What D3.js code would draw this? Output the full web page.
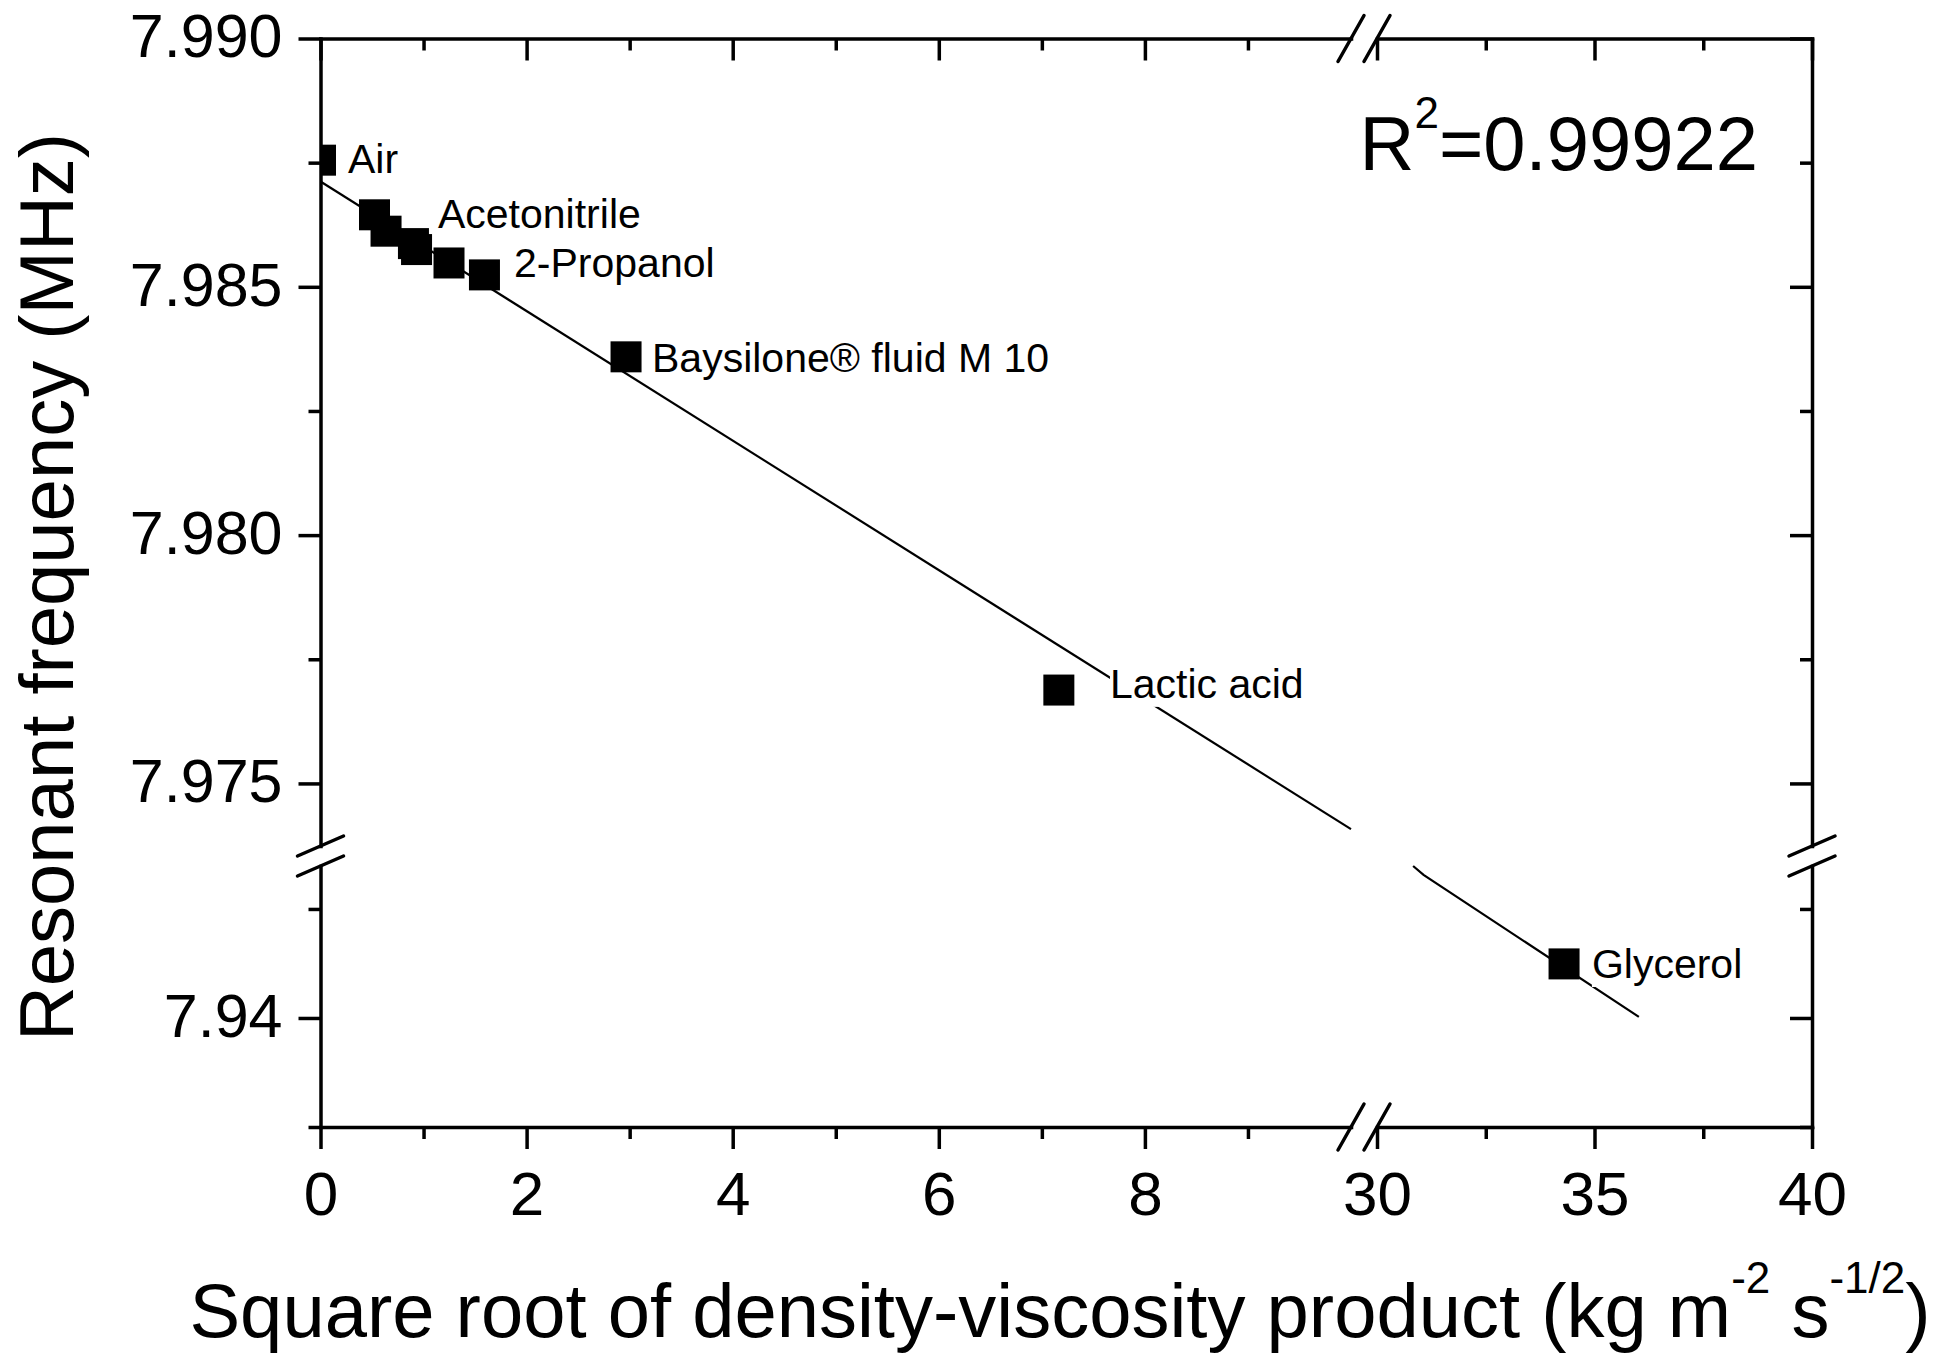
<!DOCTYPE html>
<html><head><meta charset="utf-8">
<script src="https://cdn.jsdelivr.net/npm/d3@7"></script>
<style>
html,body{margin:0;padding:0;background:#fff;}
svg{display:block;}
text{font-family:"Liberation Sans", Arial, Helvetica, sans-serif; fill:#000;}
</style></head><body>
<svg id="chart" width="1944" height="1353"></svg>
<script>
// ---------------- DATA ----------------
const pointX = [0.0, 0.524, 0.636, 0.902, 0.932, 1.247, 1.591, 2.965, 7.165, 34.30];
const pointY = [7.98755, 7.98645, 7.98612, 7.98587, 7.98575, 7.98548, 7.98524, 7.98359, 7.97688, 7.94248];

const labelText = ["Air", "Acetonitrile", "2-Propanol", "Baysilone\u00AE fluid M 10", "Lactic acid", "Glycerol"];
const labelX = [0.267, 1.140, 1.878, 3.217, 7.661, 34.94];
const labelY = [7.98759, 7.98648, 7.98549, 7.98359, 7.97702, 7.94251];

// linear fit line, read at its visible ends (drawn in two pieces across the breaks)
const fitUpperX = [0, 10];
const fitUpperY = [7.98712, 7.97408];
const fitLowerX = [30.83, 31.07, 36.02];
const fitLowerY = [7.94697, 7.94656, 7.94005];

const rSquared = "0.99922";

// broken axes: [left segment, right segment] and [lower segment, upper segment]
const xDomains = [[0, 10], [30, 40]];
const yDomains = [[7.935, 7.94697], [7.97374, 7.990]];
const xMajorTicks = [[0, 2, 4, 6, 8], [30, 35, 40]];
const xMinorTicks = [[1, 3, 5, 7, 9], [32.5, 37.5]];
const xTickLabels = [["0", "2", "4", "6", "8"], ["30", "35", "40"]];
const yMajorTicks = [[7.94], [7.975, 7.980, 7.985, 7.990]];
const yMinorTicks = [[7.935, 7.945], [7.9775, 7.9825, 7.9875]];
const yTickLabels = [["7.94"], ["7.975", "7.980", "7.985", "7.990"]];

const xTitle = "Square root of density-viscosity product (kg m";
const yTitle = "Resonant frequency (MHz)";

// ---------------- LAYOUT ----------------
const L = 320.5, R = 1812, T = 38.5, B = 1127;
const xGap = [1351, 1377];   // end of left x segment, start of right x segment
const yGap = [846, 866];     // end of upper y segment, start of lower y segment
const AX = 3.5;

const svg = d3.select("#chart");

const xScales = [
  d3.scaleLinear().domain(xDomains[0]).range([L, xGap[0]]),
  d3.scaleLinear().domain(xDomains[1]).range([xGap[1], R])
];
const yScales = [
  d3.scaleLinear().domain(yDomains[0]).range([B, yGap[1]]),
  d3.scaleLinear().domain(yDomains[1]).range([yGap[0], T])
];
const xPos = v => (v <= xDomains[0][1] ? xScales[0](v) : xScales[1](v));
const yPos = v => (v >= yDomains[1][0] ? yScales[1](v) : yScales[0](v));

function styleAxis(g, showDomain) {
  g.selectAll("path.domain").attr("stroke", "#000").attr("stroke-width", AX)
    .attr("stroke-linecap", "square").style("display", showDomain ? null : "none");
  g.selectAll(".tick line").attr("stroke", "#000").attr("stroke-width", AX);
  g.selectAll(".tick text").attr("fill", "#000")
    .style("font-family", '"Liberation Sans", Arial, sans-serif');
  g.attr("font-family", null).attr("font-size", null);
}

// ---------------- FIT LINE ----------------
const plot = svg.append("g");
const lineU = d3.line().x(d => xScales[0](d[0])).y(d => yScales[1](d[1]));
const lineLw = d3.line().x(d => xScales[1](d[0])).y(d => yScales[0](d[1]));
plot.append("path").datum(fitUpperX.map((x, i) => [x, fitUpperY[i]]))
  .attr("d", lineU).attr("fill", "none").attr("stroke", "#000").attr("stroke-width", 2.2);
plot.append("path").datum(fitLowerX.map((x, i) => [x, fitLowerY[i]]))
  .attr("d", lineLw).attr("fill", "none").attr("stroke", "#000").attr("stroke-width", 2.2);

// ---------------- LABELS (white background like the original) ----------------
const labG = svg.append("g");
labelText.forEach((t, i) => {
  const g = labG.append("g");
  const tx = g.append("text").attr("x", xPos(labelX[i])).attr("y", yPos(labelY[i]))
    .attr("dy", "0.36em").attr("font-size", 41).text(t);
  const bb = tx.node().getBBox();
  g.insert("rect", "text").attr("x", bb.x).attr("y", bb.y).attr("width", bb.width)
    .attr("height", bb.height).attr("fill", "#fff");
});

// ---------------- MARKERS ----------------
svg.append("clipPath").attr("id", "plotclip").append("rect")
  .attr("x", L).attr("y", T).attr("width", R - L).attr("height", B - T);
const S = 31;
svg.append("g").attr("clip-path", "url(#plotclip)")
  .selectAll("rect").data(pointX.map((x, i) => [x, pointY[i]])).join("rect")
  .attr("x", d => xPos(d[0]) - S / 2).attr("y", d => yPos(d[1]) - S / 2)
  .attr("width", S).attr("height", S).attr("fill", "#000");

// ---------------- AXES ----------------
const axG = svg.append("g");
[0, 1].forEach(i => {
  const xs = xScales[i];
  // bottom
  let g = axG.append("g").attr("transform", `translate(0,${B})`)
    .call(d3.axisBottom(xs).tickValues(xMajorTicks[i]).tickSize(22).tickSizeOuter(0)
      .tickPadding(22).tickFormat((d, j) => xTickLabels[i][j]));
  styleAxis(g, true);
  g.selectAll(".tick text").attr("font-size", 62);
  g = axG.append("g").attr("transform", `translate(0,${B})`)
    .call(d3.axisBottom(xs).tickValues(xMinorTicks[i]).tickSize(12).tickSizeOuter(0).tickFormat(""));
  styleAxis(g, false);
  // top (ticks inward)
  g = axG.append("g").attr("transform", `translate(0,${T})`)
    .call(d3.axisBottom(xs).tickValues(xMajorTicks[i]).tickSize(22).tickSizeOuter(0).tickFormat(""));
  styleAxis(g, true);
  g = axG.append("g").attr("transform", `translate(0,${T})`)
    .call(d3.axisBottom(xs).tickValues(xMinorTicks[i]).tickSize(12).tickSizeOuter(0).tickFormat(""));
  styleAxis(g, false);

  const ys = yScales[i];
  // left
  g = axG.append("g").attr("transform", `translate(${L},0)`)
    .call(d3.axisLeft(ys).tickValues(yMajorTicks[i]).tickSize(22).tickSizeOuter(0)
      .tickPadding(16).tickFormat((d, j) => yTickLabels[i][j]));
  styleAxis(g, true);
  g.selectAll(".tick text").attr("font-size", 61).attr("dy", "0.3em");
  g = axG.append("g").attr("transform", `translate(${L},0)`)
    .call(d3.axisLeft(ys).tickValues(yMinorTicks[i]).tickSize(12).tickSizeOuter(0).tickFormat(""));
  styleAxis(g, false);
  // right (ticks inward)
  g = axG.append("g").attr("transform", `translate(${R},0)`)
    .call(d3.axisLeft(ys).tickValues(yMajorTicks[i]).tickSize(22).tickSizeOuter(0).tickFormat(""));
  styleAxis(g, true);
  g = axG.append("g").attr("transform", `translate(${R},0)`)
    .call(d3.axisLeft(ys).tickValues(yMinorTicks[i]).tickSize(12).tickSizeOuter(0).tickFormat(""));
  styleAxis(g, false);
});

// ---------------- BREAK MARKS ----------------
const brk = svg.append("g").attr("stroke", "#000").attr("stroke-width", AX).attr("stroke-linecap", "round");
[xScales[0].range()[1], xScales[1].range()[0]].forEach(cx => {
  [T, B].forEach(cy => {
    brk.append("line").attr("x1", cx - 13).attr("y1", cy + 23).attr("x2", cx + 13).attr("y2", cy - 23);
  });
});
[yScales[1].range()[0], yScales[0].range()[1]].forEach(cy => {
  [L, R].forEach(ax => {
    brk.append("line").attr("x1", ax - 23).attr("y1", cy + 10).attr("x2", ax + 23).attr("y2", cy - 10);
  });
});

// ---------------- TITLES ----------------
svg.append("text").attr("transform", "translate(72.7,587) rotate(-90)")
  .attr("text-anchor", "middle").attr("font-size", 76).text(yTitle);

const xt = svg.append("text").attr("x", 1060).attr("y", 1337)
  .attr("text-anchor", "middle").attr("font-size", 76);
xt.append("tspan").text(xTitle);
xt.append("tspan").attr("font-size", 44).attr("dy", -44).text("-2");
xt.append("tspan").attr("dy", 44).text(" s");
xt.append("tspan").attr("font-size", 44).attr("dy", -44).text("-1/2");
xt.append("tspan").attr("dy", 44).text(")");

const rt = svg.append("text").attr("x", 1359.5).attr("y", 170).attr("font-size", 76);
rt.append("tspan").text("R");
rt.append("tspan").attr("font-size", 44).attr("dy", -42).text("2");
rt.append("tspan").attr("dy", 42).text("=" + rSquared);
</script>
</body></html>
